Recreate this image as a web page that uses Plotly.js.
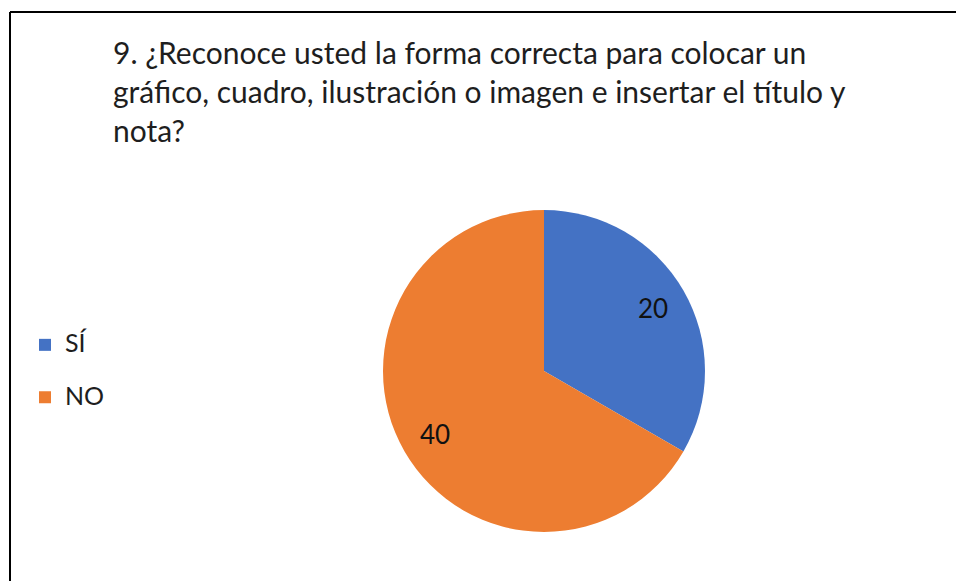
<!DOCTYPE html>
<html>
<head>
<meta charset="utf-8">
<script src="https://cdn.plot.ly/plotly-3.0.1.min.js"></script>
<style>
html,body{margin:0;padding:0;background:#fff;}
#chart{width:956px;height:581px;}
</style>
</head>
<body>
<div id="chart"></div>
<script>
const labels = ["SÍ", "NO"];
const values = [20, 40];
const colors = ["#4472C4", "#ED7D31"];
const titleText = "9. ¿Reconoce usted la forma correcta para colocar un<br>gráfico, cuadro, ilustración o imagen e insertar el título y<br>nota?";

const W = 956, H = 581;
const font = "Lato, 'Open Sans', sans-serif";

// pie geometry (pixels)
const cx = 544, cy = 371, R = 161;
const domX = [(cx - R) / W, (cx + R) / W];
const domY = [1 - (cy + R) / H, 1 - (cy - R) / H];

// legend labels: larger visible text on first line, spacer line for item height
const legendLabels = labels.map(l => `<span style="font-size:25px">${l}</span><br> `);

const trace = {
  type: "pie",
  labels: legendLabels,
  values: values,
  marker: {colors: colors, line: {width: 0}},
  sort: false,
  direction: "clockwise",
  rotation: 0,
  textinfo: "none",
  hoverinfo: "value",
  domain: {x: domX, y: domY}
};

// data labels placed near the outer part of each slice, computed from the values
const total = values.reduce((a, b) => a + b, 0);
let cum = 0;
const annotations = values.map((v) => {
  const mid = (cum + v / 2) / total * 2 * Math.PI;
  cum += v;
  const rt = 0.78 * R;
  return {
    xref: "paper", yref: "paper",
    x: (cx + rt * Math.sin(mid)) / W,
    y: 1 - (cy - rt * Math.cos(mid)) / H,
    xanchor: "center", yanchor: "middle",
    text: String(v),
    showarrow: false,
    font: {family: font, size: 26, color: "#111"}
  };
});

const layout = {
  width: W, height: H,
  margin: {l: 0, r: 0, t: 0, b: 0},
  paper_bgcolor: "#fff",
  plot_bgcolor: "#fff",
  font: {family: font, color: "#1e1e1e"},
  title: {
    text: titleText,
    x: 113 / W, xref: "container", xanchor: "left",
    y: 1 - 64 / H, yref: "container", yanchor: "top",
    font: {family: font, size: 30, color: "#1e1e1e"}
  },
  showlegend: true,
  legend: {
    x: 25 / W, xanchor: "left",
    y: 1 - 326 / H, yanchor: "top",
    valign: "top",
    font: {family: font, size: 19, color: "#1e1e1e"},
    bgcolor: "rgba(0,0,0,0)",
    itemwidth: 30
  },
  annotations: annotations,
  shapes: [
    {type: "line", xref: "paper", yref: "paper", x0: 10 / W, x1: 1, y0: 1 - 12 / H, y1: 1 - 12 / H, line: {color: "#000", width: 2}},
    {type: "line", xref: "paper", yref: "paper", x0: 10 / W, x1: 10 / W, y0: 1 - 12 / H, y1: 0, line: {color: "#000", width: 2}}
  ]
};

Plotly.newPlot("chart", [trace], layout, {displayModeBar: false, staticPlot: true});
</script>
</body>
</html>
